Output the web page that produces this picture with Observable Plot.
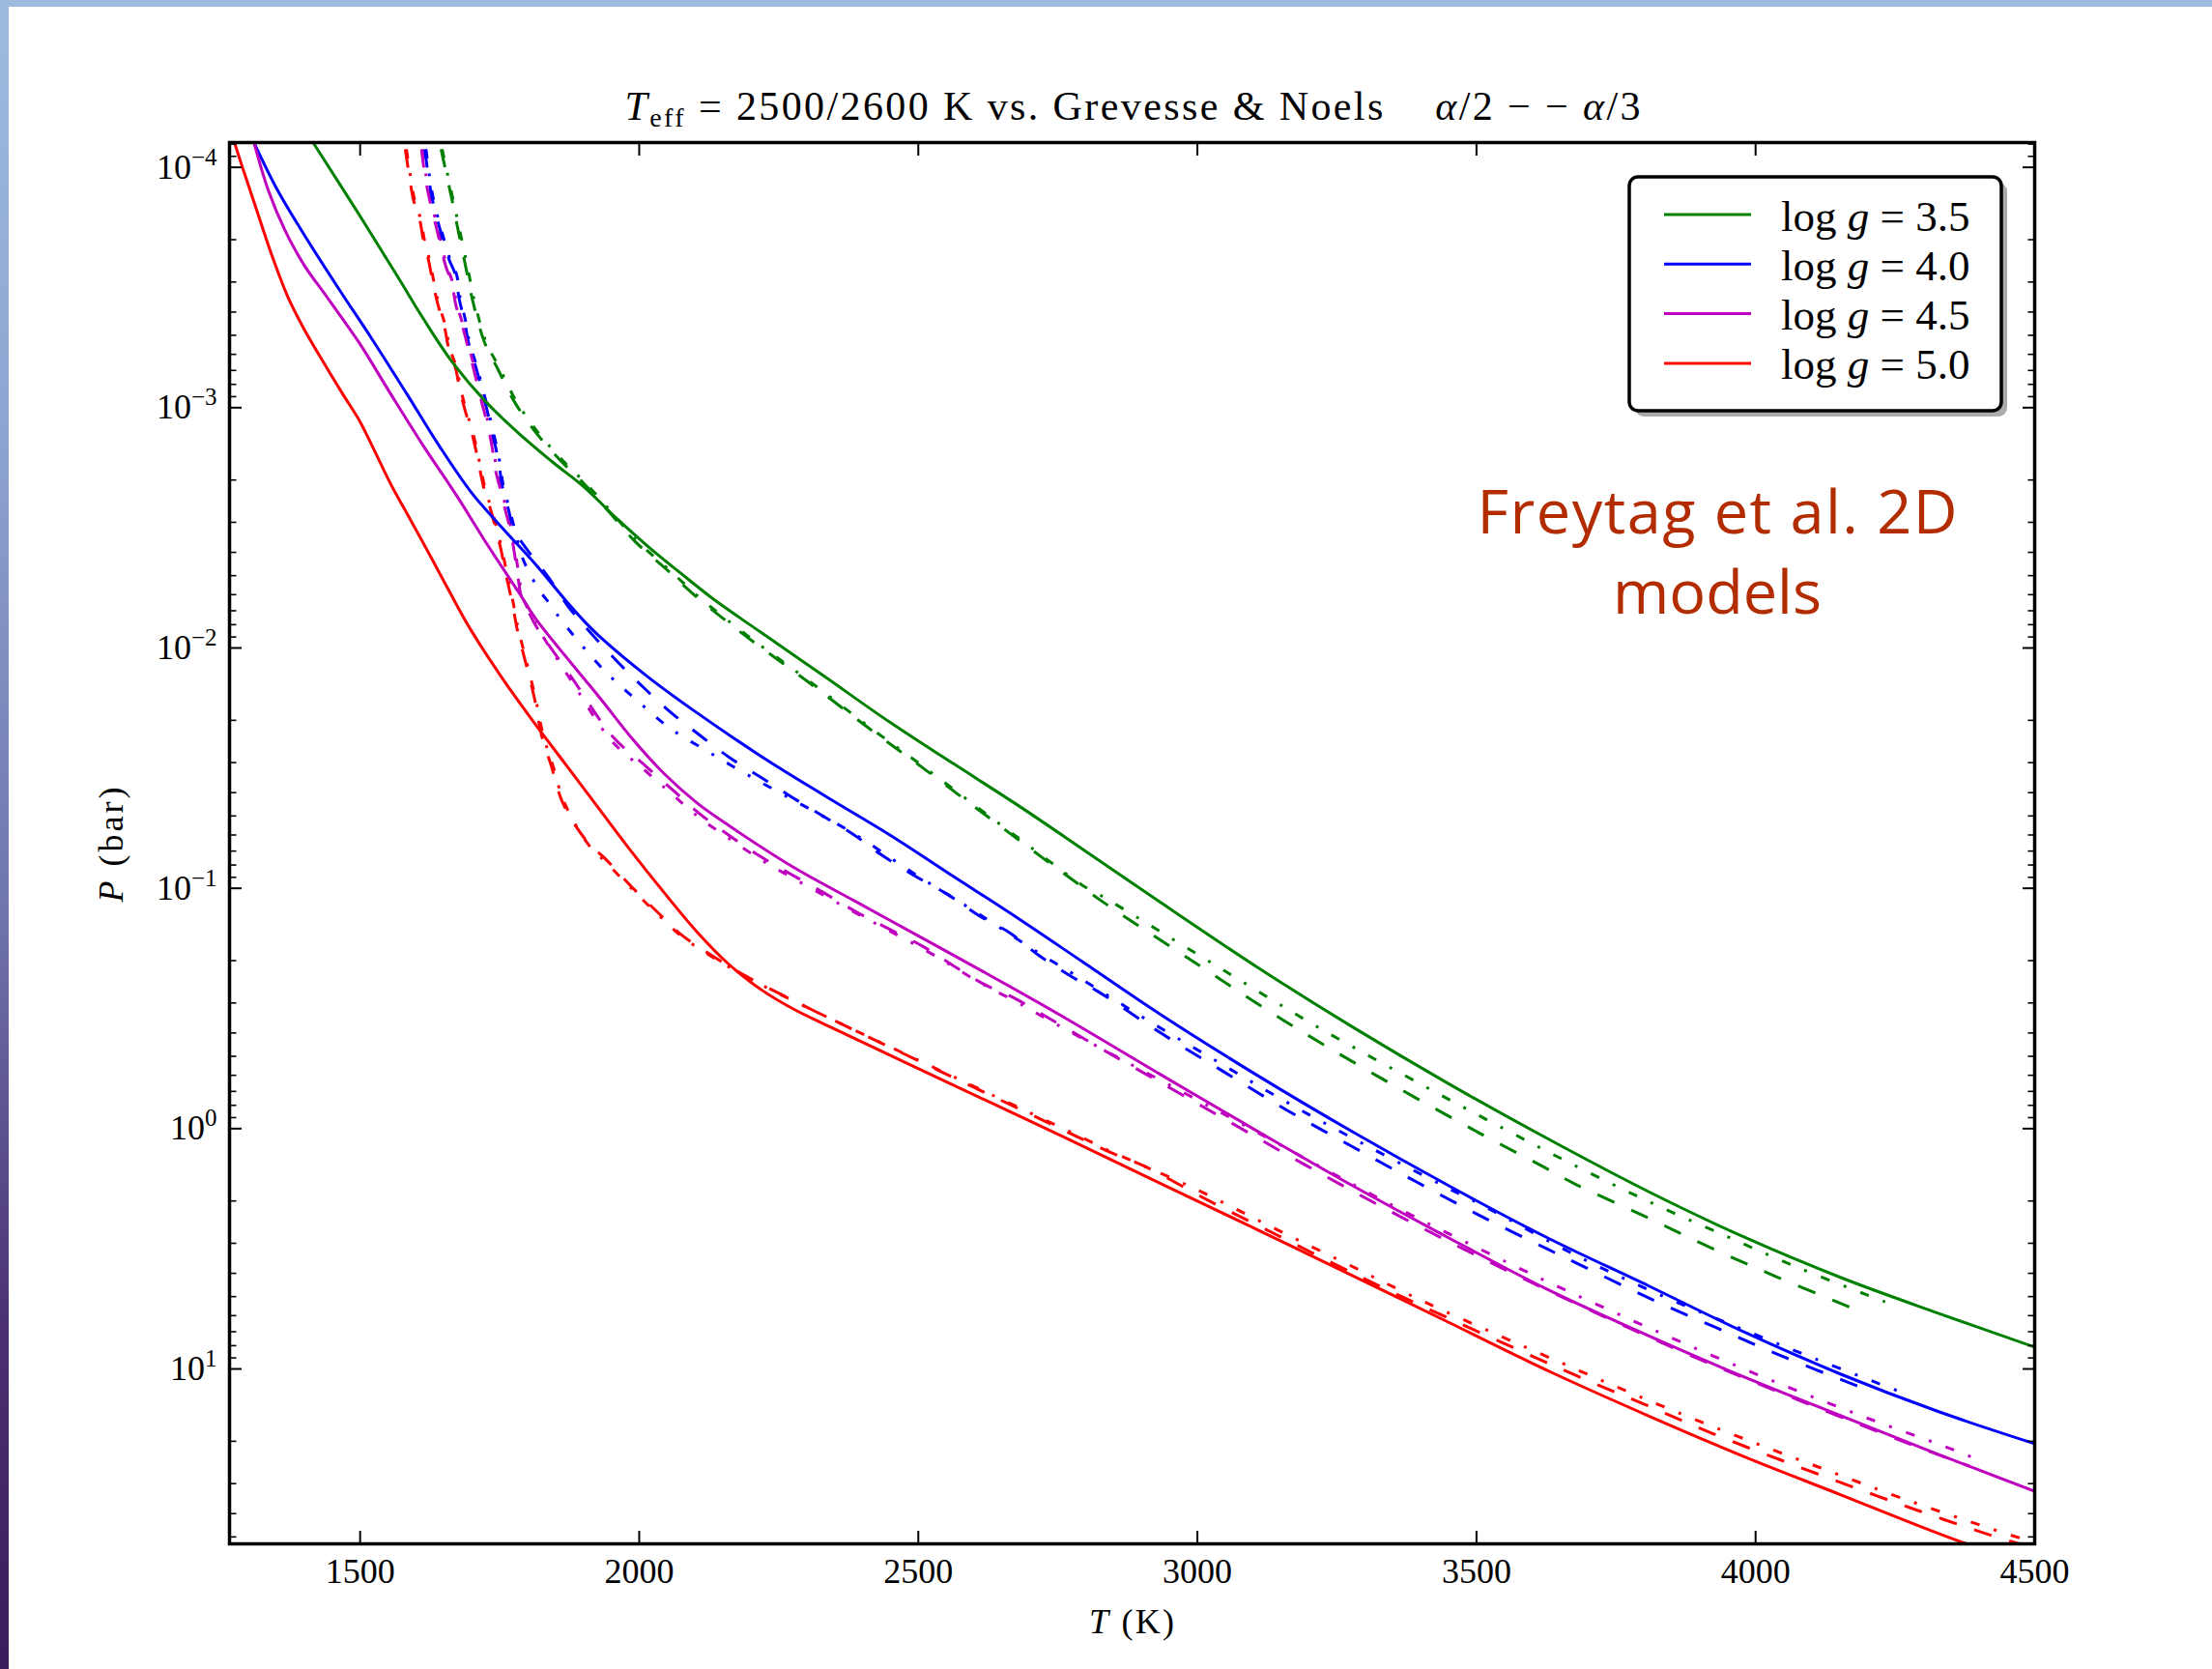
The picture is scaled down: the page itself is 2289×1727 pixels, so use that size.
<!DOCTYPE html>
<html>
<head>
<meta charset="utf-8">
<script src="https://cdn.jsdelivr.net/npm/d3@7"></script>
<script src="https://cdn.jsdelivr.net/npm/@observablehq/plot@0.6"></script>
<style>
html, body { margin: 0; padding: 0; background: #fff; overflow: hidden; }
#page { position: relative; width: 2289px; height: 1727px; overflow: hidden; background: #fff; }
#chart { position: absolute; left: 0; top: 0; }
#topband { position: absolute; left: 0; top: 0; width: 2289px; height: 7px; background: #9dbbdf; }
#leftband { position: absolute; left: 0; top: 0; width: 9px; height: 1727px; background: linear-gradient(#9dbbdf 0%, #8ea6d2 25%, #6f74ae 55%, #4a2f72 80%, #3a1d5a 100%); }
#overlay { position: absolute; left: 0; top: 0; pointer-events: none; }
</style>
</head>
<body>
<div id="page">
  <div id="chart"></div>
  <div id="topband"></div>
  <div id="leftband"></div>
  <svg id="overlay" width="2289" height="1727" xmlns="http://www.w3.org/2000/svg"></svg>
</div>
<script>
// ---------- data: each series is [T (K), log10 P (bar)] ----------
const gravities = ["3.5", "4.0", "4.5", "5.0"];
const gravityColors = ["#008000", "#0000ff", "#bf00bf", "#ff0000"];

const g35_solid = [[1416,-4.102],[1498,-3.804],[1567,-3.546],[1613,-3.371],[1665,-3.190],[1723,-3.030],[1786,-2.889],[1844,-2.775],[1902,-2.668],[1959,-2.540],[2017,-2.420],[2075,-2.310],[2132,-2.205],[2218,-2.065],[2334,-1.878],[2449,-1.691],[2564,-1.517],[2680,-1.343],[2795,-1.162],[2934,-0.941],[3107,-0.672],[3280,-0.420],[3453,-0.183],[3626,0.040],[3808,0.262],[3981,0.453],[4154,0.621],[4327,0.768],[4500,0.909]];
const g40_solid = [[1310,-4.102],[1353,-3.901],[1405,-3.700],[1463,-3.490],[1520,-3.290],[1584,-3.056],[1642,-2.840],[1700,-2.645],[1757,-2.494],[1815,-2.346],[1873,-2.185],[1907,-2.098],[1930,-2.046],[2016,-1.879],[2103,-1.731],[2218,-1.550],[2334,-1.383],[2449,-1.222],[2564,-1.048],[2680,-0.873],[2795,-0.693],[2934,-0.475],[3107,-0.222],[3280,0.016],[3453,0.241],[3626,0.453],[3808,0.654],[3981,0.848],[4154,1.023],[4327,1.177],[4500,1.311]];
const g45_solid = [[1310,-4.102],[1336,-3.901],[1365,-3.740],[1400,-3.592],[1440,-3.462],[1498,-3.271],[1555,-3.056],[1613,-2.842],[1671,-2.641],[1729,-2.426],[1786,-2.225],[1815,-2.120],[1930,-1.791],[1987,-1.624],[2045,-1.476],[2103,-1.356],[2160,-1.262],[2276,-1.088],[2391,-0.941],[2507,-0.793],[2622,-0.646],[2762,-0.462],[2934,-0.225],[3107,0.010],[3280,0.240],[3453,0.458],[3626,0.668],[3808,0.862],[3981,1.035],[4154,1.196],[4327,1.355],[4500,1.509]];
const g50_solid = [[1275,-4.102],[1290,-3.994],[1313,-3.834],[1342,-3.633],[1371,-3.458],[1400,-3.325],[1434,-3.190],[1469,-3.056],[1498,-2.949],[1527,-2.815],[1555,-2.681],[1590,-2.534],[1625,-2.386],[1659,-2.239],[1694,-2.092],[1750,-1.890],[1809,-1.698],[1870,-1.510],[1930,-1.325],[1987,-1.150],[2045,-0.981],[2103,-0.820],[2160,-0.685],[2218,-0.579],[2276,-0.498],[2345,-0.420],[2550,-0.195],[2761,0.035],[2934,0.228],[3107,0.420],[3280,0.614],[3450,0.806],[3635,1.015],[3808,1.195],[3981,1.366],[4154,1.525],[4327,1.684],[4500,1.830]];

const g35_dash = [[1645,-4.075],[1665,-3.860],[1679,-3.699],[1691,-3.566],[1703,-3.432],[1723,-3.271],[1746,-3.164],[1775,-3.030],[1815,-2.896],[1861,-2.775],[1902,-2.681],[1948,-2.561],[1994,-2.440],[2046,-2.333],[2103,-2.212],[2189,-2.053],[2299,-1.865],[2420,-1.651],[2507,-1.503],[2622,-1.302],[2726,-1.121],[2789,-1.014],[2824,-0.954],[2994,-0.693],[3159,-0.444],[3329,-0.210],[3505,0.018],[3620,0.159],[3678,0.232],[3799,0.362],[3917,0.493],[4038,0.617],[4174,0.748]];
const g35_dashdot = [[1647,-4.075],[1667,-3.860],[1682,-3.699],[1694,-3.566],[1706,-3.432],[1726,-3.271],[1750,-3.164],[1779,-3.030],[1819,-2.896],[1865,-2.775],[1906,-2.681],[1952,-2.561],[1998,-2.440],[2050,-2.333],[2107,-2.212],[2193,-2.053],[2303,-1.865],[2424,-1.651],[2511,-1.503],[2626,-1.302],[2730,-1.121],[2793,-1.014],[2827,-0.970],[3023,-0.693],[3222,-0.414],[3424,-0.155],[3560,0.014],[3658,0.132],[3796,0.290],[3937,0.437],[4079,0.581],[4232,0.721]];
const g40_dash = [[1616,-4.075],[1622,-3.968],[1630,-3.860],[1645,-3.727],[1659,-3.619],[1671,-3.552],[1677,-3.458],[1688,-3.351],[1694,-3.271],[1708,-3.164],[1723,-3.030],[1737,-2.896],[1749,-2.762],[1754,-2.681],[1766,-2.574],[1775,-2.494],[1798,-2.413],[1838,-2.292],[1873,-2.172],[1902,-2.092],[1961,-1.943],[2008,-1.835],[2057,-1.731],[2109,-1.636],[2162,-1.544],[2217,-1.463],[2271,-1.383],[2328,-1.302],[2385,-1.222],[2432,-1.142],[2492,-1.054],[2553,-0.974],[2608,-0.887],[2665,-0.813],[2717,-0.719],[2775,-0.632],[2821,-0.572],[2939,-0.391],[3052,-0.230],[3164,-0.072],[3280,0.078],[3395,0.225],[3513,0.370],[3626,0.500],[3692,0.574],[3808,0.704],[3929,0.828],[4050,0.949],[4188,1.076]];
const g40_dashdot = [[1618,-4.075],[1624,-3.968],[1632,-3.860],[1647,-3.727],[1661,-3.619],[1673,-3.552],[1679,-3.458],[1690,-3.351],[1696,-3.271],[1710,-3.164],[1725,-3.030],[1739,-2.896],[1751,-2.762],[1756,-2.681],[1768,-2.574],[1777,-2.494],[1790,-2.380],[1818,-2.252],[1841,-2.179],[1864,-2.105],[1938,-1.905],[1996,-1.782],[2054,-1.668],[2120,-1.573],[2186,-1.483],[2253,-1.396],[2322,-1.309],[2385,-1.227],[2492,-1.062],[2608,-0.894],[2717,-0.729],[2778,-0.643],[2908,-0.455],[3040,-0.273],[3173,-0.093],[3309,0.078],[3445,0.243],[3513,0.322],[3678,0.527],[3825,0.688],[3963,0.822],[4105,0.956],[4258,1.094]];
const g45_dash = [[1610,-4.075],[1616,-3.968],[1625,-3.860],[1639,-3.727],[1653,-3.592],[1665,-3.512],[1671,-3.432],[1685,-3.325],[1694,-3.244],[1703,-3.164],[1717,-3.030],[1729,-2.923],[1737,-2.828],[1743,-2.735],[1752,-2.654],[1760,-2.574],[1769,-2.494],[1777,-2.386],[1783,-2.293],[1789,-2.212],[1803,-2.145],[1815,-2.092],[1882,-1.867],[1953,-1.630],[2011,-1.510],[2060,-1.409],[2109,-1.309],[2160,-1.222],[2218,-1.131],[2270,-1.061],[2331,-0.981],[2388,-0.903],[2449,-0.829],[2510,-0.756],[2562,-0.679],[2616,-0.603],[2674,-0.541],[2735,-0.458],[2847,-0.307],[3020,-0.078],[3193,0.151],[3366,0.369],[3540,0.574],[3721,0.774],[3903,0.963],[4086,1.138],[4270,1.307],[4384,1.405]];
const g45_dashdot = [[1612,-4.075],[1618,-3.968],[1627,-3.860],[1641,-3.727],[1655,-3.592],[1667,-3.512],[1673,-3.432],[1687,-3.325],[1696,-3.244],[1705,-3.164],[1719,-3.030],[1731,-2.923],[1739,-2.828],[1745,-2.735],[1754,-2.654],[1762,-2.574],[1771,-2.494],[1779,-2.386],[1785,-2.293],[1791,-2.212],[1806,-2.140],[1818,-2.085],[1882,-1.850],[1950,-1.615],[2008,-1.495],[2057,-1.395],[2106,-1.297],[2158,-1.212],[2216,-1.122],[2268,-1.052],[2330,-0.972],[2388,-0.897],[2449,-0.822],[2510,-0.746],[2562,-0.675],[2616,-0.600],[2674,-0.530],[2735,-0.450],[2824,-0.338],[3029,-0.083],[3231,0.172],[3366,0.339],[3574,0.578],[3643,0.654],[3783,0.802],[3923,0.945],[4066,1.083],[4210,1.213],[4353,1.335],[4396,1.375]];
const g50_dash = [[1581,-4.075],[1587,-3.981],[1596,-3.860],[1607,-3.780],[1613,-3.700],[1622,-3.619],[1630,-3.526],[1639,-3.432],[1651,-3.338],[1659,-3.244],[1671,-3.164],[1679,-3.070],[1688,-2.989],[1700,-2.896],[1708,-2.817],[1714,-2.748],[1723,-2.654],[1734,-2.574],[1743,-2.494],[1752,-2.413],[1760,-2.320],[1769,-2.225],[1777,-2.132],[1781,-2.082],[1796,-1.944],[1812,-1.794],[1825,-1.637],[1842,-1.513],[1863,-1.356],[1905,-1.199],[1941,-1.119],[1987,-1.005],[2034,-0.898],[2077,-0.804],[2135,-0.713],[2193,-0.632],[2254,-0.559],[2316,-0.487],[2360,-0.438],[2787,0.036],[2845,0.100],[2905,0.156],[3023,0.303],[3142,0.442],[3261,0.581],[3381,0.715],[3678,1.027],[3802,1.148],[3923,1.269],[4044,1.378],[4168,1.486],[4292,1.590],[4419,1.690],[4480,1.733]];
const g50_dashdot = [[1583,-4.075],[1589,-3.981],[1598,-3.860],[1609,-3.780],[1615,-3.700],[1624,-3.619],[1632,-3.526],[1641,-3.432],[1653,-3.338],[1661,-3.244],[1673,-3.164],[1681,-3.070],[1690,-2.989],[1702,-2.896],[1710,-2.817],[1716,-2.748],[1725,-2.654],[1736,-2.574],[1745,-2.494],[1754,-2.413],[1762,-2.320],[1771,-2.225],[1779,-2.132],[1783,-2.082],[1798,-1.944],[1814,-1.794],[1828,-1.637],[1845,-1.513],[1866,-1.356],[1908,-1.185],[1944,-1.100],[1990,-0.990],[2036,-0.885],[2079,-0.795],[2137,-0.706],[2195,-0.627],[2256,-0.555],[2318,-0.485],[2362,-0.436],[2787,0.030],[2845,0.095],[2991,0.245],[3130,0.406],[3268,0.563],[3407,0.721],[3686,1.009],[3828,1.150],[3972,1.284],[4116,1.411],[4260,1.536],[4405,1.652],[4477,1.706]];

// ticks & labels
const xTicks = [1500, 2000, 2500, 3000, 3500, 4000, 4500];
const yTicks = [1e-4, 1e-3, 1e-2, 1e-1, 1, 10];
const yTickLabels = ["10^\u22124", "10^\u22123", "10^\u22122", "10^\u22121", "10^0", "10^1"];
const xDomain = [1266, 4500];
const yDomain = [7.886e-5, 53.43];
const legendLabels = ["3.5", "4.0", "4.5", "5.0"];

// ---------- build table ----------
const series = [
  {logg: "3.5", style: "solid", pts: g35_solid},
  {logg: "4.0", style: "solid", pts: g40_solid},
  {logg: "4.5", style: "solid", pts: g45_solid},
  {logg: "5.0", style: "solid", pts: g50_solid},
  {logg: "3.5", style: "dashed", pts: g35_dash},
  {logg: "4.0", style: "dashed", pts: g40_dash},
  {logg: "4.5", style: "dashed", pts: g45_dash},
  {logg: "5.0", style: "dashed", pts: g50_dash},
  {logg: "3.5", style: "dashdot", pts: g35_dashdot},
  {logg: "4.0", style: "dashdot", pts: g40_dashdot},
  {logg: "4.5", style: "dashdot", pts: g45_dashdot},
  {logg: "5.0", style: "dashdot", pts: g50_dashdot}
];
const rows = series.flatMap(s => s.pts.map(([T, lp]) => ({T, P: Math.pow(10, lp), logg: s.logg, style: s.style, key: s.logg + "-" + s.style})));

const yMinorTicks = [];
for (let e = -5; e <= 1; e++) for (let m = 2; m <= 9; m++) {
  const v = m * Math.pow(10, e);
  if (v > yDomain[0] && v < yDomain[1]) yMinorTicks.push(v);
}

const lineOpts = {x: "T", y: "P", z: "key", stroke: "logg", strokeWidth: 3, strokeLinecap: "butt", strokeLinejoin: "round", curve: "catmull-rom", clip: true};

const chart = Plot.plot({
  width: 2289, height: 1727,
  marginTop: 147, marginRight: 184, marginBottom: 130, marginLeft: 237,
  style: {fontFamily: "'Liberation Serif', 'DejaVu Serif', serif", fontSize: "36px", background: "transparent", color: "#000", overflow: "visible"},
  x: {domain: xDomain, axis: null},
  y: {type: "log", domain: yDomain, reverse: true, axis: null},
  color: {domain: gravities, range: gravityColors},
  marks: [
    Plot.line(rows.filter(d => d.style === "dashdot"), {...lineOpts, strokeDasharray: "9.5,15.5,3,15.5"}),
    Plot.line(rows.filter(d => d.style === "dashed"), {...lineOpts, strokeDasharray: "19,19"}),
    Plot.line(rows.filter(d => d.style === "solid"), lineOpts),
    Plot.frame({stroke: "#000", strokeWidth: 3.5}),
    Plot.axisX(xTicks, {anchor: "bottom", tickSize: -13, tickPadding: 28, strokeWidth: 2, tickFormat: d => String(d), label: null}),
    Plot.axisX(xTicks, {anchor: "top", tickSize: -13, strokeWidth: 2, tickFormat: () => "", label: null}),
    Plot.axisY(yTicks, {anchor: "left", tickSize: -13, tickPadding: 26, strokeWidth: 2, tickFormat: d => yTickLabels[yTicks.indexOf(d)], label: null}),
    Plot.axisY(yTicks, {anchor: "right", tickSize: -13, strokeWidth: 2, tickFormat: () => "", label: null}),
    Plot.axisY(yMinorTicks, {anchor: "left", tickSize: -7.5, strokeWidth: 1.6, tickFormat: () => "", label: null}),
    Plot.axisY(yMinorTicks, {anchor: "right", tickSize: -7.5, strokeWidth: 1.6, tickFormat: () => "", label: null})
  ]
});
document.getElementById("chart").appendChild(chart);

// superscripts on the log tick labels
const NS = "http://www.w3.org/2000/svg";
chart.querySelectorAll('g[aria-label="y-axis tick label"] text').forEach(t => {
  const m = (t.textContent || "").match(/^10\^(.+)$/);
  if (!m) return;
  while (t.firstChild) t.removeChild(t.firstChild);
  const a = document.createElementNS(NS, "tspan");
  a.textContent = "10";
  t.appendChild(a);
  const b = document.createElementNS(NS, "tspan");
  b.setAttribute("font-size", "25");
  b.setAttribute("dy", "-14");
  b.textContent = m[1];
  t.appendChild(b);
});

// ---------- overlay: title, axis labels, legend, annotation ----------
const ov = d3.select("#overlay");
const serif = "'Liberation Serif', 'DejaVu Serif', serif";

const title = ov.append("text").attr("x", 1172).attr("y", 124).attr("text-anchor", "middle")
  .attr("font-family", serif).attr("font-size", 42).attr("textLength", 1051).attr("lengthAdjust", "spacing")
  .style("white-space", "pre");
title.append("tspan").attr("font-style", "italic").text("T");
title.append("tspan").attr("font-size", 28).attr("dy", 7).text("eff");
title.append("tspan").attr("dy", -7).text(" = 2500/2600 K vs. Grevesse & Noels    ");
title.append("tspan").attr("font-style", "italic").text("\u03b1");
title.append("tspan").text("/2 \u2212 \u2212 ");
title.append("tspan").attr("font-style", "italic").text("\u03b1");
title.append("tspan").text("/3");

const xl = ov.append("text").attr("x", 1171).attr("y", 1690).attr("text-anchor", "middle")
  .attr("font-family", serif).attr("font-size", 36).attr("textLength", 88).attr("lengthAdjust", "spacing").style("white-space", "pre");
xl.append("tspan").attr("font-style", "italic").text("T");
xl.append("tspan").text(" (K)");

const yl = ov.append("text").attr("transform", "translate(127,874) rotate(-90)").attr("text-anchor", "middle")
  .attr("font-family", serif).attr("font-size", 36).attr("textLength", 119).attr("lengthAdjust", "spacing").style("white-space", "pre");
yl.append("tspan").attr("font-style", "italic").text("P");
yl.append("tspan").text(" (bar)");

// legend
const lg = ov.append("g");
lg.append("rect").attr("x", 1692).attr("y", 189).attr("width", 385).attr("height", 242).attr("rx", 9).attr("fill", "#ababab");
lg.append("rect").attr("x", 1686).attr("y", 183).attr("width", 385).attr("height", 242).attr("rx", 9)
  .attr("fill", "#fff").attr("stroke", "#000").attr("stroke-width", 3.5);
legendLabels.forEach((lab, i) => {
  const y = 222 + i * 51.3;
  lg.append("line").attr("x1", 1722).attr("x2", 1812).attr("y1", y).attr("y2", y)
    .attr("stroke", gravityColors[i]).attr("stroke-width", 3);
  const t = lg.append("text").attr("x", 1843).attr("y", y + 16.5).attr("font-family", serif).attr("font-size", 45).style("white-space", "pre");
  t.append("tspan").text("log ");
  t.append("tspan").attr("font-style", "italic").text("g");
  t.append("tspan").text(" = " + lab);
});

// annotation
ov.append("text").attr("x", 1777).attr("y", 552).attr("text-anchor", "middle")
  .attr("font-family", "'Open Sans', sans-serif").attr("font-size", 63).attr("fill", "#b22c00")
  .attr("textLength", 497).attr("lengthAdjust", "spacing").text("Freytag et al. 2D");
ov.append("text").attr("x", 1777).attr("y", 635).attr("text-anchor", "middle")
  .attr("font-family", "'Open Sans', sans-serif").attr("font-size", 63).attr("fill", "#b22c00")
  .text("models");
</script>
</body>
</html>
